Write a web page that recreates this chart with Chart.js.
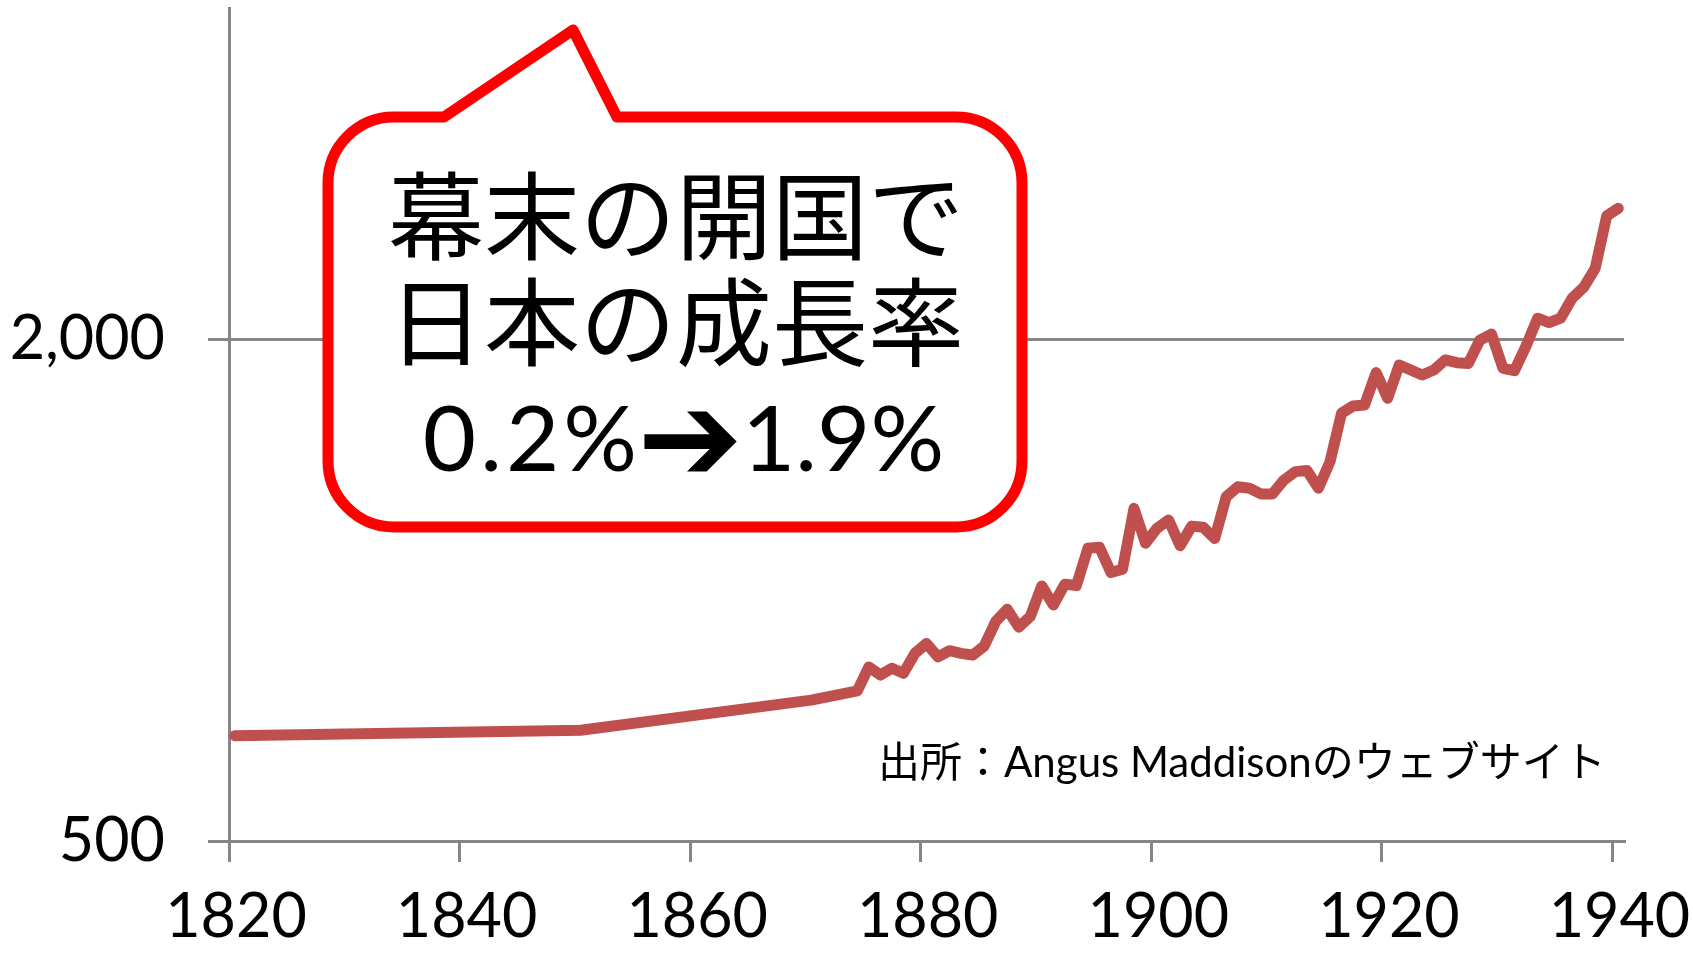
<!DOCTYPE html>
<html lang="ja">
<head>
<meta charset="utf-8">
<title>日本の一人当たりGDP 1820-1940</title>
<script src="https://cdn.jsdelivr.net/npm/chart.js@4.4.1/dist/chart.umd.min.js"></script>
<style>
  html, body { margin: 0; padding: 0; background: #ffffff; }
  #wrap { width: 1693px; height: 954px; }
</style>
</head>
<body>
<div id="wrap"><canvas id="gdpChart" width="1693" height="954"></canvas></div>
<script>
// Japan GDP per capita (Angus Maddison), log scale
const years = [
  1820, 1850, 1870, 1874,
  1875, 1876, 1877, 1878, 1879, 1880,
  1881, 1882, 1883, 1884, 1885, 1886, 1887, 1888, 1889, 1890,
  1891, 1892, 1893, 1894, 1895, 1896, 1897, 1898, 1899, 1900,
  1901, 1902, 1903, 1904, 1905, 1906, 1907, 1908, 1909, 1910,
  1911, 1912, 1913, 1914, 1915, 1916, 1917, 1918, 1919, 1920,
  1921, 1922, 1923, 1924, 1925, 1926, 1927, 1928, 1929, 1930,
  1931, 1932, 1933, 1934, 1935, 1936, 1937, 1938, 1939, 1940
];
const gdpPerCapita = [
  669, 679, 738, 757,
  809, 791, 806, 795, 840, 863,
  832, 846, 840, 836, 857, 917, 949, 903, 930, 1012,
  960, 1017, 1013, 1123, 1126, 1050, 1060, 1254, 1139, 1187,
  1214, 1131, 1194, 1190, 1154, 1295, 1331, 1326, 1305, 1305,
  1356, 1388, 1392, 1326, 1427, 1631, 1664, 1669, 1825, 1700,
  1864, 1838, 1813, 1838, 1890, 1876, 1872, 1997, 2030, 1847,
  1835, 1964, 2121, 2095, 2121, 2241, 2310, 2434, 2814, 2874
];
const xTickYears = [1820, 1840, 1860, 1880, 1900, 1920, 1940];
const yTickValues = [500, 2000];

const bubbleLines = ["幕末の開国で", "日本の成長率"];
const rateBefore  = "0.2%";
const rateArrow   = "➔";
const rateAfter   = "1.9%";
const sourceText  = "出所：Angus Maddisonのウェブサイト";

const AXIS_GRAY = "#868686";
const LINE_RED  = "#C0504D";

// speech bubble + source note, drawn on top of the plot
const annotationPlugin = {
  id: "annotations",
  afterDraw(chart) {
    const ctx = chart.ctx;
    const L = 328, R = 1022, T = 117, B = 527, r = 66;
    ctx.save();
    ctx.beginPath();
    ctx.moveTo(L + r, T);
    ctx.lineTo(444, T);
    ctx.lineTo(573, 30);
    ctx.lineTo(617, T);
    ctx.lineTo(R - r, T);
    ctx.arcTo(R, T, R, B, r);
    ctx.arcTo(R, B, L, B, r);
    ctx.arcTo(L, B, L, T, r);
    ctx.arcTo(L, T, R, T, r);
    ctx.closePath();
    ctx.fillStyle = "#ffffff";
    ctx.fill();
    ctx.lineWidth = 11;
    ctx.lineJoin = "round";
    ctx.strokeStyle = "#FF0000";
    ctx.stroke();

    ctx.fillStyle = "#000000";
    ctx.textAlign = "center";
    ctx.textBaseline = "middle";
    ctx.font = "96px 'Noto Sans CJK JP'";
    ctx.fillText(bubbleLines[0], 676, 216);
    ctx.fillText(bubbleLines[1], 676, 322);

    ctx.textBaseline = "alphabetic";
    ctx.font = "92px Lato, 'Noto Sans CJK JP'";
    ctx.letterSpacing = "4px";
    ctx.textAlign = "right";
    ctx.fillText(rateBefore, 641, 471);
    ctx.letterSpacing = "0px";
    ctx.textAlign = "left";
    ctx.fillText(rateAfter, 742, 471);
    ctx.textAlign = "center";
    ctx.font = "bold 126px 'DejaVu Sans'";
    ctx.fillText(rateArrow, 690, 481);

    ctx.textAlign = "left";
    ctx.font = "42px Lato, 'Noto Sans CJK JP'";
    ctx.fillText(sourceText, 878, 777);
    ctx.restore();
  }
};

const ctx = document.getElementById("gdpChart").getContext("2d");

new Chart(ctx, {
  type: "line",
  data: {
    datasets: [{
      label: "一人当たりGDP",
      data: years.map((x, i) => ({ x, y: gdpPerCapita[i] })),
      borderColor: LINE_RED,
      borderWidth: 11,
      borderCapStyle: "round",
      borderJoinStyle: "round",
      pointRadius: 0,
      tension: 0,
      fill: false
    }]
  },
  options: {
    responsive: false,
    animation: false,
    devicePixelRatio: 1,
    layout: { padding: { left: 0, right: 69, top: 8, bottom: 0 } },
    plugins: {
      legend: { display: false },
      title: { display: false },
      tooltip: { enabled: false }
    },
    scales: {
      x: {
        type: "linear",
        min: 1819.5,
        max: 1940.5,
        afterBuildTicks: s => { s.ticks = xTickYears.map(y => ({ value: y - 0.5 })); },
        afterFit: s => { s.height = 113; s.paddingLeft = 0; s.paddingRight = 0; },
        ticks: {
          autoSkip: false,
          maxRotation: 0,
          padding: 19,
          labelOffset: 7,
          color: "#000000",
          font: { family: "Lato", size: 61 },
          callback: (v, i) => String(xTickYears[i])
        },
        grid: {
          drawOnChartArea: false,
          drawTicks: true,
          tickLength: 21,
          color: AXIS_GRAY,
          lineWidth: 3
        },
        border: { display: true, color: AXIS_GRAY, width: 3 }
      },
      y: {
        type: "logarithmic",
        min: 500,
        max: 5000,
        afterBuildTicks: s => { s.ticks = yTickValues.map(v => ({ value: v })); },
        afterFit: s => { s.width = 229; s.paddingTop = 0; s.paddingBottom = 0; },
        ticks: {
          padding: 43,
          color: "#000000",
          font: { family: "Lato", size: 61 },
          callback: v => v.toLocaleString("en-US")
        },
        grid: {
          drawOnChartArea: true,
          drawTicks: true,
          tickLength: 21,
          color: AXIS_GRAY,
          lineWidth: 3
        },
        border: { display: true, color: AXIS_GRAY, width: 3 }
      }
    }
  },
  plugins: [annotationPlugin]
});
</script>
</body>
</html>
